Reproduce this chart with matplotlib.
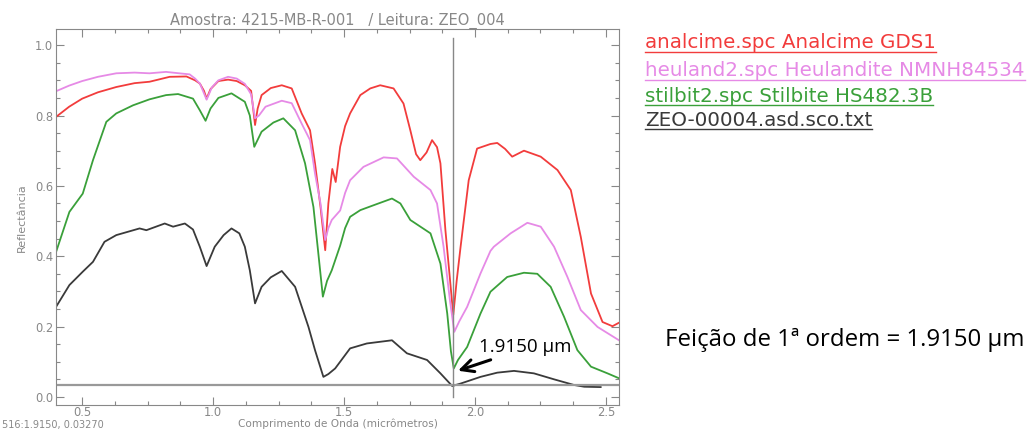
import numpy as np
import matplotlib
matplotlib.use("Agg")
import matplotlib.pyplot as plt
from matplotlib.ticker import MultipleLocator

# spectra (wavelength in micrometres, reflectance)
analcime_x = [0.40, 0.45, 0.50, 0.56, 0.63, 0.70, 0.757, 0.834, 0.898, 0.931, 0.949, 0.965,
              0.975, 0.99, 1.02, 1.057, 1.09, 1.121, 1.145, 1.16, 1.17, 1.185, 1.22, 1.262,
              1.30, 1.338, 1.37, 1.389, 1.41, 1.428, 1.44, 1.455, 1.468, 1.485, 1.504, 1.523,
              1.562, 1.60, 1.638, 1.689, 1.727, 1.753, 1.775, 1.791, 1.815, 1.836, 1.855,
              1.868, 1.887, 1.905, 1.917, 1.93, 1.945, 1.976, 2.008, 2.059, 2.085, 2.115,
              2.142, 2.187, 2.251, 2.315, 2.366, 2.404, 2.443, 2.487, 2.525, 2.55]
analcime_y = [0.796, 0.825, 0.848, 0.866, 0.881, 0.892, 0.896, 0.910, 0.911, 0.900, 0.891, 0.870,
              0.848, 0.875, 0.898, 0.902, 0.898, 0.886, 0.870, 0.773, 0.820, 0.858, 0.878, 0.886,
              0.877, 0.806, 0.758, 0.664, 0.540, 0.417, 0.550, 0.648, 0.611, 0.711, 0.770, 0.806,
              0.858, 0.877, 0.886, 0.877, 0.834, 0.758, 0.690, 0.673, 0.695, 0.730, 0.710,
              0.664, 0.474, 0.330, 0.233, 0.330, 0.427, 0.616, 0.706, 0.719, 0.722, 0.705,
              0.683, 0.700, 0.683, 0.645, 0.588, 0.455, 0.294, 0.213, 0.201, 0.211]

heuland_x = [0.40, 0.45, 0.50, 0.56, 0.63, 0.70, 0.757, 0.82, 0.87, 0.91, 0.931, 0.95, 0.975,
             0.995, 1.02, 1.057, 1.09, 1.121, 1.145, 1.16, 1.175, 1.20, 1.262, 1.30, 1.338,
             1.37, 1.389, 1.41, 1.428, 1.44, 1.453, 1.485, 1.504, 1.523, 1.574, 1.651, 1.702,
             1.766, 1.83, 1.855, 1.88, 1.905, 1.921, 1.94, 1.97, 2.021, 2.059, 2.072, 2.136,
             2.20, 2.251, 2.302, 2.353, 2.404, 2.468, 2.55]
heuland_y = [0.869, 0.885, 0.898, 0.910, 0.920, 0.922, 0.920, 0.924, 0.920, 0.917, 0.905, 0.890,
             0.845, 0.880, 0.900, 0.910, 0.905, 0.890, 0.860, 0.792, 0.800, 0.825, 0.842, 0.835,
             0.777, 0.730, 0.635, 0.550, 0.446, 0.480, 0.503, 0.530, 0.580, 0.616, 0.654, 0.681,
             0.678, 0.626, 0.588, 0.550, 0.427, 0.270, 0.185, 0.215, 0.256, 0.351, 0.415, 0.427,
             0.465, 0.495, 0.484, 0.427, 0.341, 0.247, 0.199, 0.161]

stilbite_x = [0.40, 0.451, 0.502, 0.541, 0.592, 0.63, 0.694, 0.757, 0.82, 0.866, 0.923, 0.949,
              0.971, 0.99, 1.02, 1.07, 1.121, 1.14, 1.157, 1.185, 1.23, 1.268, 1.313, 1.351,
              1.383, 1.40, 1.419, 1.435, 1.453, 1.485, 1.504, 1.523, 1.562, 1.613, 1.683, 1.715,
              1.753, 1.83, 1.868, 1.894, 1.908, 1.919, 1.935, 1.97, 2.021, 2.059, 2.123, 2.187,
              2.238, 2.289, 2.34, 2.391, 2.443, 2.506, 2.55]
stilbite_y = [0.412, 0.526, 0.578, 0.673, 0.782, 0.806, 0.829, 0.846, 0.858, 0.861, 0.848, 0.815,
              0.785, 0.820, 0.850, 0.863, 0.839, 0.800, 0.711, 0.754, 0.780, 0.792, 0.758, 0.664,
              0.540, 0.420, 0.285, 0.330, 0.360, 0.430, 0.480, 0.512, 0.531, 0.545, 0.564, 0.550,
              0.503, 0.465, 0.379, 0.237, 0.130, 0.081, 0.105, 0.142, 0.237, 0.299, 0.341, 0.353,
              0.350, 0.313, 0.228, 0.133, 0.086, 0.067, 0.053]

zeo_x = [0.40, 0.451, 0.502, 0.541, 0.585, 0.63, 0.719, 0.745, 0.815, 0.847, 0.892, 0.923,
         0.949, 0.975, 1.006, 1.04, 1.07, 1.10, 1.121, 1.14, 1.16, 1.185, 1.22, 1.262, 1.313,
         1.364, 1.389, 1.421, 1.44, 1.466, 1.504, 1.523, 1.587, 1.683, 1.74, 1.817, 1.868,
         1.913, 1.945, 2.021, 2.085, 2.149, 2.225, 2.302, 2.378, 2.417, 2.48]
zeo_y = [0.256, 0.318, 0.356, 0.384, 0.441, 0.460, 0.479, 0.474, 0.493, 0.484, 0.493, 0.476,
         0.427, 0.372, 0.427, 0.460, 0.479, 0.465, 0.427, 0.360, 0.266, 0.313, 0.340, 0.358,
         0.313, 0.199, 0.133, 0.057, 0.065, 0.081, 0.119, 0.138, 0.152, 0.161, 0.124, 0.105,
         0.067, 0.031, 0.038, 0.057, 0.069, 0.074, 0.067, 0.050, 0.034, 0.029, 0.028]

labels = ["analcime.spc Analcime GDS1",
          "heuland2.spc Heulandite NMNH84534",
          "stilbit2.spc Stilbite HS482.3B",
          "ZEO-00004.asd.sco.txt"]
colors = ["#f23c3c", "#e68ae6", "#3aa03a", "#3a3a3a"]

cursor_x = 1.915
cursor_y = 0.0327

grey = "#888888"

fig = plt.figure(figsize=(10.36, 4.30), dpi=100)
ax = fig.add_axes([0.0541, 0.0581, 0.5434, 0.8737])

series = [(analcime_x, analcime_y), (heuland_x, heuland_y),
          (stilbite_x, stilbite_y), (zeo_x, zeo_y)]
for (xs, ys), c in zip(series, colors):
    ax.plot(xs, ys, color=c, lw=1.3)

# cursor lines
ax.axhline(cursor_y, color="#999999", lw=1.6)
ax.plot([cursor_x, cursor_x], [0.0, 1.02], color=grey, lw=1.0)

ax.set_xlim(0.4, 2.55)
ax.set_ylim(-0.023, 1.045)
ax.xaxis.set_major_locator(MultipleLocator(0.5))
ax.xaxis.set_minor_locator(MultipleLocator(0.125))
ax.yaxis.set_major_locator(MultipleLocator(0.2))
ax.yaxis.set_minor_locator(MultipleLocator(0.05))
ax.tick_params(which="both", direction="in", top=True, right=True, color=grey,
               labelcolor=grey, labelsize=8.3, width=0.8)
ax.tick_params(which="major", length=6, pad=2)
ax.tick_params(axis="x", which="major", pad=1)
ax.tick_params(which="minor", length=3)
for s in ax.spines.values():
    s.set_color(grey)
    s.set_linewidth(0.8)

ax.set_title("Amostra: 4215-MB-R-001   / Leitura: ZEO_004", fontsize=10.5, color=grey, pad=2)
ax.set_xlabel("Comprimento de Onda (micrômetros)", fontsize=7.6, color=grey, labelpad=-0.5)
ax.set_ylabel("Reflectância", fontsize=8, color=grey, labelpad=6)

fig.text(0.002, 0.012, "516:1.9150, 0.03270", fontsize=7, color=grey, va="center")

# annotation of the first-order feature
ax.annotate("", xy=(1.925, 0.072), xytext=(2.07, 0.108),
            arrowprops=dict(arrowstyle="->", color="black", lw=2.2, mutation_scale=22))
ax.text(2.014, 0.143, "1.9150 μm", fontsize=13.5, family="Open Sans", va="center", ha="left")

fig.text(665 / 1036, 1 - 340 / 430, "Feição de 1ª ordem = 1.9150 μm", fontsize=17.3,
         family="Open Sans", va="center", ha="left")

# underlined legend on the right
leg_y = [43, 71, 96, 120]
texts = []
for lab, c, yp in zip(labels, colors, leg_y):
    t = fig.text(645 / 1036, 1 - yp / 430, lab, color=c, fontsize=14.3, va="center", ha="left")
    texts.append(t)

fig.canvas.draw()
r = fig.canvas.get_renderer()
for t, c in zip(texts, colors):
    bb = t.get_window_extent(r).transformed(fig.transFigure.inverted())
    fig.add_artist(plt.Line2D([bb.x0, bb.x1], [bb.y0 + 0.002, bb.y0 + 0.002],
                              transform=fig.transFigure, color=c, lw=1))

fig.savefig("out.png", dpi=100)
